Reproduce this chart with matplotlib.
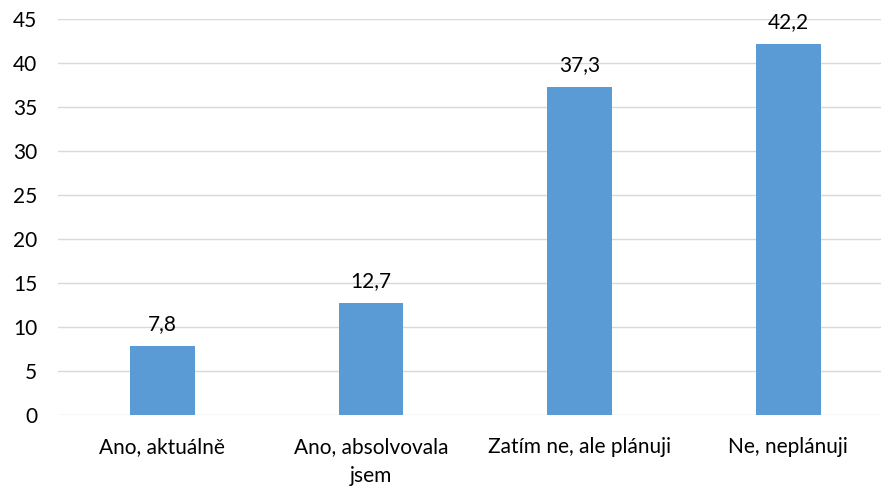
import matplotlib
matplotlib.use("Agg")
import matplotlib.pyplot as plt

# === Data ===
categories = ["Ano, aktuálně", "Ano, absolvovala\njsem", "Zatím ne, ale plánuji", "Ne, neplánuji"]
values = [7.8, 12.7, 37.3, 42.2]
value_labels = ["7,8", "12,7", "37,3", "42,2"]
y_ticks = [0, 5, 10, 15, 20, 25, 30, 35, 40, 45]

plt.rcParams['font.family'] = ['Lato', 'DejaVu Sans']
fs = 15

fig = plt.figure(figsize=(8.81, 4.88), dpi=100)
ax = fig.add_axes([58 / 881, 1 - 415 / 488, 1 - 58 / 881, (415 - 19) / 488])

x = list(range(len(categories)))
ax.bar(x, values, width=0.31, color="#5B9BD5", zorder=3)

# value labels above bars
for xi, v, lab in zip(x, values, value_labels):
    ax.annotate(lab, (xi, v), xytext=(0, 8.5), textcoords="offset points",
                ha="center", va="bottom", fontsize=fs, color="#000000")

ax.set_xlim(-0.5, 3.445)
ax.set_ylim(0, 45)
ax.set_yticks(y_ticks)
ax.set_xticks(x)
ax.set_xticklabels(categories, fontsize=fs, color="#000000", linespacing=1.55, va="top")
ax.tick_params(axis="y", length=0, pad=15, labelsize=fs, labelcolor="#000000")
ax.tick_params(axis="x", length=0, pad=16)

ax.grid(axis="y", color="#d9d9d9", linewidth=1.0, zorder=0)
for s in ax.spines.values():
    s.set_visible(False)

fig.savefig("out.png", dpi=100)
